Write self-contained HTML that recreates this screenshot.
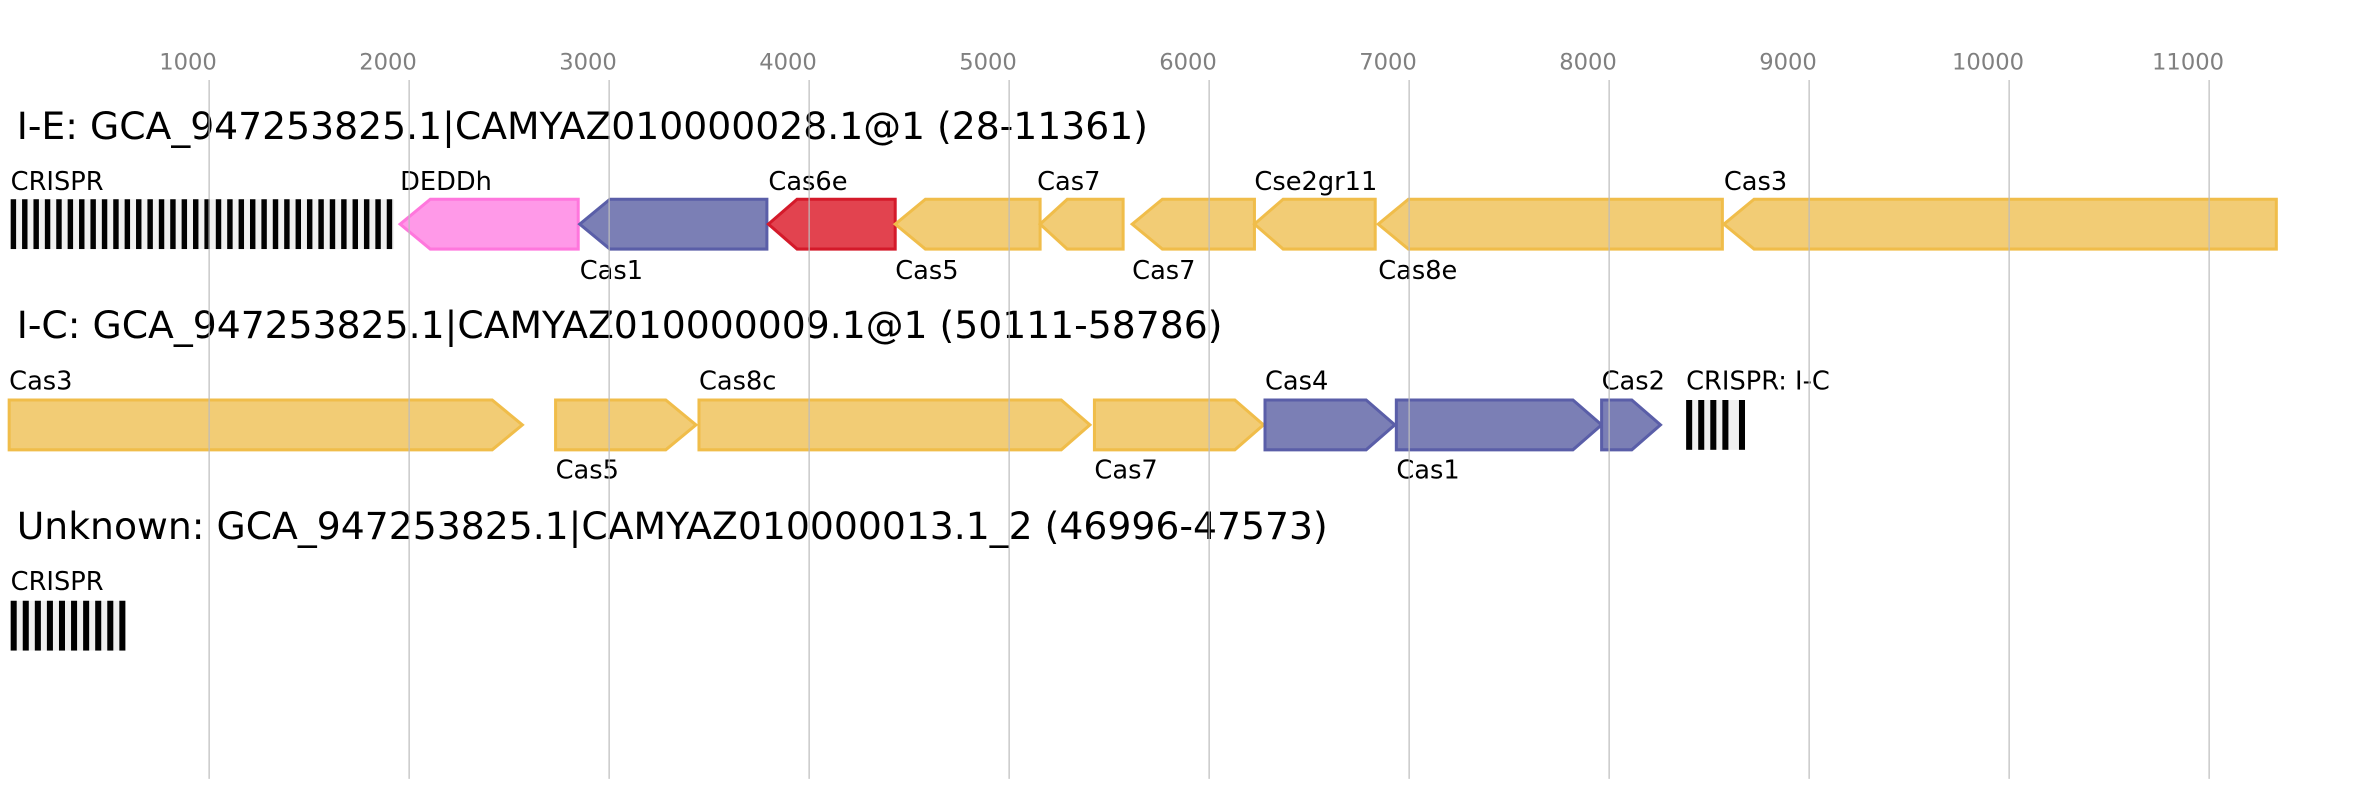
<!DOCTYPE html>
<html><head><meta charset="utf-8"><style>
html,body{margin:0;padding:0;background:#fff;}
svg{display:block;}
text{font-family:"DejaVu Sans","Liberation Sans",sans-serif;}
.t{font-size:15px;fill:#808080;text-anchor:middle;}
.h{font-size:25px;fill:#000;}
.l{font-size:17px;fill:#000;}
.y{fill:#f2cc75;stroke:#f0bd4a;stroke-width:2;}
.b{fill:#7b7fb5;stroke:#5a5ea8;stroke-width:2;}
.p{fill:#ff99e8;stroke:#ff77dd;stroke-width:2;}
.r{fill:#e2434f;stroke:#d41a2a;stroke-width:2;}
.g{stroke:#bdbdbd;stroke-width:1;opacity:0.8;}
</style></head><body>
<svg width="2367" height="800" viewBox="0 0 1568 530" xmlns="http://www.w3.org/2000/svg">
<rect x="0" y="0" width="1568" height="530" fill="#fff"/>
<g id="rows">
<!-- row1 -->
<text class="h" x="11" y="92">I-E: GCA_947253825.1|CAMYAZ010000028.1@1 (28-11361)</text>
<text class="l" x="7" y="126">CRISPR</text>
<rect x="7" y="132" width="254" height="33" fill="#f0f0f0"/>
<g id="cr1" fill="#000"></g>
<polygon class="p" points="265,148.5 285,132 383,132 383,165 285,165"/>
<text class="l" x="265" y="126">DEDDh</text>
<polygon class="b" points="384,148.5 404,132 508,132 508,165 404,165"/>
<text class="l" x="384" y="185">Cas1</text>
<polygon class="r" points="509,148.5 528,132 593,132 593,165 528,165"/>
<text class="l" x="509" y="126">Cas6e</text>
<polygon class="y" points="593,148.5 613,132 689,132 689,165 613,165"/>
<text class="l" x="593" y="185">Cas5</text>
<polygon class="y" points="689,148.5 707,132 744,132 744,165 707,165"/>
<text class="l" x="687" y="126">Cas7</text>
<polygon class="y" points="750,148.5 770,132 831,132 831,165 770,165"/>
<text class="l" x="750" y="185">Cas7</text>
<polygon class="y" points="831,148.5 850,132 911,132 911,165 850,165"/>
<text class="l" x="831" y="126">Cse2gr11</text>
<polygon class="y" points="913,148.5 933,132 1141,132 1141,165 933,165"/>
<text class="l" x="913" y="185">Cas8e</text>
<polygon class="y" points="1142,148.5 1162,132 1508,132 1508,165 1162,165"/>
<text class="l" x="1142" y="126">Cas3</text>
<!-- row2 -->
<text class="h" x="11" y="224">I-C: GCA_947253825.1|CAMYAZ010000009.1@1 (50111-58786)</text>
<polygon class="y" points="6,265 326,265 346,281.5 326,298 6,298"/>
<text class="l" x="6" y="258">Cas3</text>
<polygon class="y" points="368,265 441,265 461,281.5 441,298 368,298"/>
<text class="l" x="368" y="317">Cas5</text>
<polygon class="y" points="463,265 703,265 722,281.5 703,298 463,298"/>
<text class="l" x="463" y="258">Cas8c</text>
<polygon class="y" points="725,265 818,265 837,281.5 818,298 725,298"/>
<text class="l" x="725" y="317">Cas7</text>
<polygon class="b" points="838,265 905,265 924,281.5 905,298 838,298"/>
<text class="l" x="838" y="258">Cas4</text>
<polygon class="b" points="925,265 1042,265 1061,281.5 1042,298 925,298"/>
<text class="l" x="925" y="317">Cas1</text>
<polygon class="b" points="1061,265 1081,265 1100,281.5 1081,298 1061,298"/>
<text class="l" x="1061" y="258">Cas2</text>
<text class="l" x="1117" y="258">CRISPR: I-C</text>
<rect x="1117" y="265" width="39" height="33" fill="#f0f0f0"/>
<g fill="#000">
<rect x="1117" y="265" width="4" height="33"/><rect x="1125" y="265" width="4" height="33"/><rect x="1133" y="265" width="4" height="33"/><rect x="1141" y="265" width="4" height="33"/><rect x="1152" y="265" width="4" height="33"/>
</g>
<!-- row3 -->
<text class="h" x="11" y="357">Unknown: GCA_947253825.1|CAMYAZ010000013.1_2 (46996-47573)</text>
<text class="l" x="7" y="391">CRISPR</text>
<rect x="7" y="398" width="76" height="33" fill="#f0f0f0"/>
<g fill="#000">
<rect x="7" y="398" width="4" height="33"/><rect x="15" y="398" width="4" height="33"/><rect x="23" y="398" width="4" height="33"/><rect x="31" y="398" width="4" height="33"/><rect x="39" y="398" width="4" height="33"/><rect x="47" y="398" width="4" height="33"/><rect x="55" y="398" width="4" height="33"/><rect x="63" y="398" width="4" height="33"/><rect x="71" y="398" width="4" height="33"/><rect x="79" y="398" width="4" height="33"/>
</g>
</g>
<g id="grid"></g>
</svg>
<script>
var ns="http://www.w3.org/2000/svg";
var cr=document.getElementById("cr1");
for(var i=0;i<34;i++){var r=document.createElementNS(ns,"rect");r.setAttribute("x",7+i*7.55);r.setAttribute("y",132);r.setAttribute("width",3.6);r.setAttribute("height",33);cr.appendChild(r);}
var g=document.getElementById("grid");
for(var k=1;k<=11;k++){var x=138.5+(k-1)*132.5;
var l=document.createElementNS(ns,"line");l.setAttribute("x1",x);l.setAttribute("x2",x);l.setAttribute("y1",53);l.setAttribute("y2",516);l.setAttribute("class","g");g.appendChild(l);
var t=document.createElementNS(ns,"text");t.setAttribute("x",x-14);t.setAttribute("y",46);t.setAttribute("class","t");t.textContent=(k*1000)+"";g.appendChild(t);}
</script>
</body></html>
